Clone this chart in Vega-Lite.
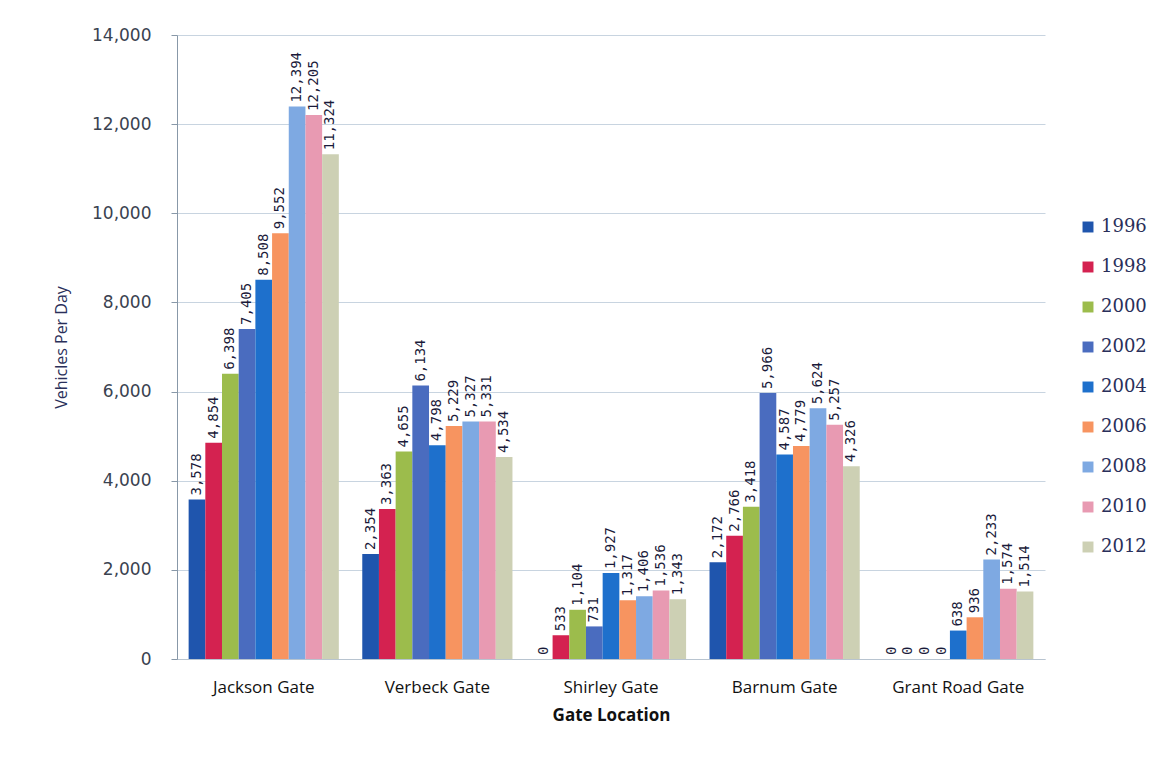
{
  "$schema": "https://vega.github.io/schema/vega-lite/v6.json",
  "width": 868,
  "height": 624,
  "autosize": "none",
  "padding": {"left": 177, "top": 35, "right": 125, "bottom": 102},
  "background": "white",
  "data": {
    "values": [
      {"gate": "Jackson Gate", "year": "1996", "vpd": 3578},
      {"gate": "Jackson Gate", "year": "1998", "vpd": 4854},
      {"gate": "Jackson Gate", "year": "2000", "vpd": 6398},
      {"gate": "Jackson Gate", "year": "2002", "vpd": 7405},
      {"gate": "Jackson Gate", "year": "2004", "vpd": 8508},
      {"gate": "Jackson Gate", "year": "2006", "vpd": 9552},
      {"gate": "Jackson Gate", "year": "2008", "vpd": 12394},
      {"gate": "Jackson Gate", "year": "2010", "vpd": 12205},
      {"gate": "Jackson Gate", "year": "2012", "vpd": 11324},
      {"gate": "Verbeck Gate", "year": "1996", "vpd": 2354},
      {"gate": "Verbeck Gate", "year": "1998", "vpd": 3363},
      {"gate": "Verbeck Gate", "year": "2000", "vpd": 4655},
      {"gate": "Verbeck Gate", "year": "2002", "vpd": 6134},
      {"gate": "Verbeck Gate", "year": "2004", "vpd": 4798},
      {"gate": "Verbeck Gate", "year": "2006", "vpd": 5229},
      {"gate": "Verbeck Gate", "year": "2008", "vpd": 5327},
      {"gate": "Verbeck Gate", "year": "2010", "vpd": 5331},
      {"gate": "Verbeck Gate", "year": "2012", "vpd": 4534},
      {"gate": "Shirley Gate", "year": "1996", "vpd": 0},
      {"gate": "Shirley Gate", "year": "1998", "vpd": 533},
      {"gate": "Shirley Gate", "year": "2000", "vpd": 1104},
      {"gate": "Shirley Gate", "year": "2002", "vpd": 731},
      {"gate": "Shirley Gate", "year": "2004", "vpd": 1927},
      {"gate": "Shirley Gate", "year": "2006", "vpd": 1317},
      {"gate": "Shirley Gate", "year": "2008", "vpd": 1406},
      {"gate": "Shirley Gate", "year": "2010", "vpd": 1536},
      {"gate": "Shirley Gate", "year": "2012", "vpd": 1343},
      {"gate": "Barnum Gate", "year": "1996", "vpd": 2172},
      {"gate": "Barnum Gate", "year": "1998", "vpd": 2766},
      {"gate": "Barnum Gate", "year": "2000", "vpd": 3418},
      {"gate": "Barnum Gate", "year": "2002", "vpd": 5966},
      {"gate": "Barnum Gate", "year": "2004", "vpd": 4587},
      {"gate": "Barnum Gate", "year": "2006", "vpd": 4779},
      {"gate": "Barnum Gate", "year": "2008", "vpd": 5624},
      {"gate": "Barnum Gate", "year": "2010", "vpd": 5257},
      {"gate": "Barnum Gate", "year": "2012", "vpd": 4326},
      {"gate": "Grant Road Gate", "year": "1996", "vpd": 0},
      {"gate": "Grant Road Gate", "year": "1998", "vpd": 0},
      {"gate": "Grant Road Gate", "year": "2000", "vpd": 0},
      {"gate": "Grant Road Gate", "year": "2002", "vpd": 0},
      {"gate": "Grant Road Gate", "year": "2004", "vpd": 638},
      {"gate": "Grant Road Gate", "year": "2006", "vpd": 936},
      {"gate": "Grant Road Gate", "year": "2008", "vpd": 2233},
      {"gate": "Grant Road Gate", "year": "2010", "vpd": 1574},
      {"gate": "Grant Road Gate", "year": "2012", "vpd": 1514}
    ]
  },
  "encoding": {
    "x": {
      "field": "gate", "type": "nominal", "sort": null,
      "scale": {"paddingInner": 0.135, "paddingOuter": 0.067},
      "axis": {
        "title": "Gate Location", "labelAngle": 0, "labelFontSize": 17, "labelColor": "#111111",
        "labelFont": "Open Sans", "labelPadding": 20, "ticks": false,
        "domainColor": "#b8c4d0", "titleFont": "Open Sans", "titleFontSize": 17, "titleFontWeight": "bold",
        "titleColor": "#111111", "titlePadding": 12
      }
    },
    "xOffset": {"field": "year", "type": "nominal", "sort": ["1996","1998","2000","2002","2004","2006","2008","2010","2012"]},
    "y": {
      "field": "vpd", "type": "quantitative",
      "scale": {"domain": [0, 14000], "nice": false},
      "axis": {
        "title": "Vehicles Per Day", "values": [0,2000,4000,6000,8000,10000,12000,14000],
        "format": ",.0f", "labelFontSize": 17, "labelColor": "#3a4250", "labelFont": "DejaVu Sans",
        "labelPadding": 20, "tickColor": "#8898a8", "tickSize": 6, "domainColor": "#8898a8",
        "gridColor": "#c8d4e0", "titleFont": "Open Sans", "titleFontSize": 16, "titleFontWeight": "normal",
        "titleColor": "#2a2f5a", "titlePadding": 22
      }
    }
  },
  "layer": [
    {
      "mark": {"type": "bar"},
      "encoding": {
        "color": {
          "field": "year", "type": "nominal", "sort": ["1996","1998","2000","2002","2004","2006","2008","2010","2012"],
          "scale": {
            "domain": ["1996","1998","2000","2002","2004","2006","2008","2010","2012"],
            "range": ["#1f55ad","#d42250","#9cbc4c","#4a6cbf","#1e70cc","#f79460","#7ea9e2","#e89ab2","#cdd0b4"]
          },
          "legend": {
            "title": null, "orient": "none", "legendX": 902, "legendY": 183,
            "symbolType": "square", "symbolSize": 120, "symbolStrokeWidth": 0,
            "labelFontSize": 18, "labelFont": "DejaVu Serif", "labelColor": "#2a2f5a",
            "rowPadding": 22, "labelOffset": 4
          }
        }
      }
    },
    {
      "mark": {"type": "text", "angle": -90, "align": "left", "baseline": "middle", "dx": 4,
               "fontSize": 14, "font": "DejaVu Sans Mono", "color": "#1a1a3a"},
      "encoding": {
        "text": {"field": "vpd", "type": "quantitative", "format": ","}
      }
    }
  ],
  "config": {
    "view": {"stroke": null},
    "bar": {"binSpacing": 0}
  }
}
